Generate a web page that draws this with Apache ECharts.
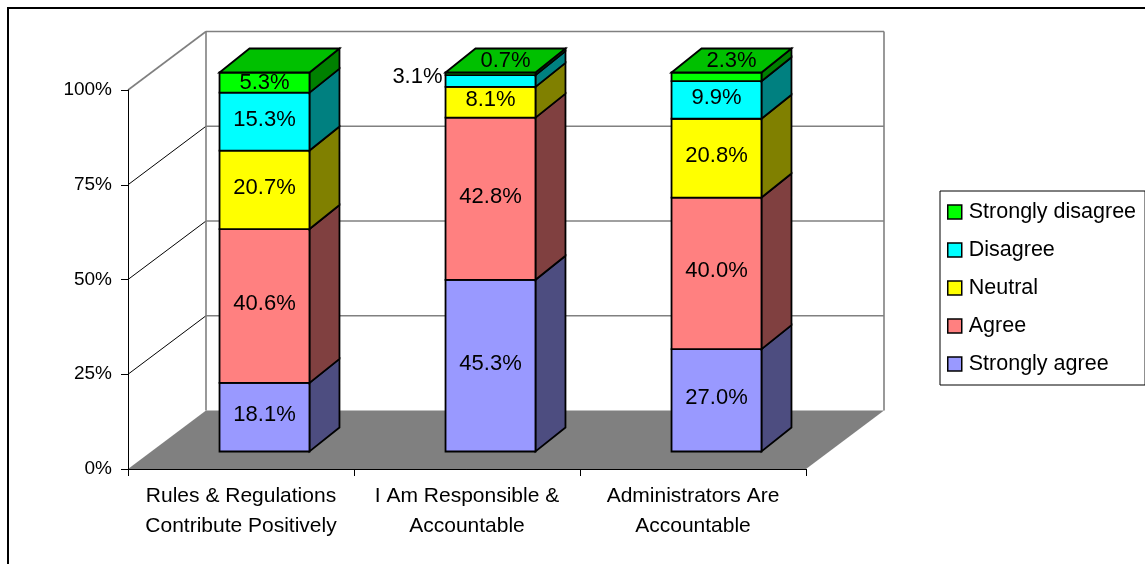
<!DOCTYPE html>
<html>
<head>
<meta charset="utf-8">
<title>Survey responses</title>
<script src="https://cdn.jsdelivr.net/npm/echarts@6/dist/echarts.min.js"></script>
<style>
  html, body { margin: 0; padding: 0; background: #fff; }
  #chart { width: 1145px; height: 564px; }
</style>
</head>
<body>
<div id="chart"></div>
<script>
// Statements on the category axis
const categories = [
  'Rules & Regulations\nContribute Positively',
  'I Am Responsible &\nAccountable',
  'Administrators Are\nAccountable'
];

// Share of responses (%) per statement, bottom to top of each stack
const stronglyAgree    = [18.1, 45.3, 27.0];
const agree            = [40.6, 42.8, 40.0];
const neutral          = [20.7, 8.1, 20.8];
const disagree         = [15.3, 3.1, 9.9];
const stronglyDisagree = [5.3, 0.7, 2.3];

const seriesNames = ['Strongly agree', 'Agree', 'Neutral', 'Disagree', 'Strongly disagree'];
const seriesValues = [stronglyAgree, agree, neutral, disagree, stronglyDisagree];

// Value axis ticks
const yTicks = [0, 25, 50, 75, 100];
const yTickLabels = ['0%', '25%', '50%', '75%', '100%'];

// Face colours: front, side (shaded), top
const faceColors = [
  { front: '#9999FF', side: '#4D4D80', top: '#7373BF' },
  { front: '#FF8080', side: '#804040', top: '#BF6060' },
  { front: '#FFFF00', side: '#808000', top: '#BFBF00' },
  { front: '#00FFFF', side: '#008080', top: '#00BFBF' },
  { front: '#00FF00', side: '#008000', top: '#00C000' }
];

const FONT = '"Liberation Sans", Arial, Helvetica, sans-serif';

// Pseudo-3D projection (pixels)
const WALL_DX = 78, WALL_DY = -58.5;     // full depth of the plot box
const FRONT_DX = 23.5, FRONT_DY = -17.5; // bar front face offset into the box
const BAR_DX = 30, BAR_DY = -24;         // bar depth
const BAR_RATIO = 0.398;                 // bar width relative to category band

function renderFrame(params, api) {
  const band = api.size([1, 0])[0];
  const left = api.coord([0, 0])[0] - band / 2;
  const right = api.coord([categories.length - 1, 0])[0] + band / 2;
  const y0 = api.coord([0, yTicks[0]])[1];
  const yTop = api.coord([0, yTicks[yTicks.length - 1]])[1];
  const children = [];
  // floor
  children.push({
    type: 'polygon',
    shape: { points: [[left, y0], [right, y0], [right + WALL_DX, y0 + WALL_DY], [left + WALL_DX, y0 + WALL_DY]] },
    style: { fill: '#808080', stroke: null }
  });
  // back wall gridlines and side wall diagonals
  yTicks.forEach(function (t, i) {
    const y = api.coord([0, t])[1];
    if (i > 0) {
      children.push({
        type: 'line',
        shape: { x1: left + WALL_DX, y1: y + WALL_DY, x2: right + WALL_DX, y2: y + WALL_DY },
        style: { stroke: '#808080', lineWidth: 1.6 }
      });
      const isTop = i === yTicks.length - 1;
      children.push({
        type: 'line',
        shape: { x1: left, y1: y, x2: left + WALL_DX, y2: y + WALL_DY },
        style: { stroke: isTop ? '#808080' : '#000', lineWidth: isTop ? 1.6 : 1 }
      });
    }
  });
  // back wall vertical edges
  [left + WALL_DX, right + WALL_DX].forEach(function (x) {
    children.push({
      type: 'line',
      shape: { x1: x, y1: y0 + WALL_DY, x2: x, y2: yTop + WALL_DY },
      style: { stroke: '#808080', lineWidth: 1.6 }
    });
  });
  return { type: 'group', children: children };
}

function makeSegmentRenderer(seriesIndex) {
  const colors = faceColors[seriesIndex];
  const isTopSeries = seriesIndex === seriesNames.length - 1;
  return function (params, api) {
    const cat = api.value(0);
    const lo = api.value(1);
    const hi = api.value(2);
    const val = api.value(3);
    const pLo = api.coord([cat, lo]);
    const pHi = api.coord([cat, hi]);
    const band = api.size([1, 0])[0];
    const w = band * BAR_RATIO;
    const xl = pLo[0] + FRONT_DX - w / 2;
    const xr = xl + w;
    const yb = pLo[1] + FRONT_DY;
    const yt = pHi[1] + FRONT_DY;
    const edge = { stroke: '#000', lineWidth: 1.8, lineJoin: 'miter' };
    const children = [
      {
        type: 'polygon',
        shape: { points: [[xr, yt], [xr + BAR_DX, yt + BAR_DY], [xr + BAR_DX, yb + BAR_DY], [xr, yb]] },
        style: Object.assign({ fill: colors.side }, edge)
      },
      {
        type: 'rect',
        shape: { x: xl, y: yt, width: w, height: yb - yt },
        style: Object.assign({ fill: colors.front }, edge)
      }
    ];
    if (isTopSeries) {
      children.push({
        type: 'polygon',
        shape: { points: [[xl, yt], [xl + BAR_DX, yt + BAR_DY], [xr + BAR_DX, yt + BAR_DY], [xr, yt]] },
        style: Object.assign({ fill: colors.top }, edge)
      });
    }
    // value label
    const text = val.toFixed(1) + '%';
    const h = yb - yt;
    let tx = (xl + xr) / 2, ty = (yt + yb) / 2 - (h < 25 ? 0 : 2), align = 'center';
    if (h < 15) {
      if (isTopSeries) {
        tx = (xl + xr) / 2 + BAR_DX / 2;
        ty = yt + BAR_DY / 2;
      } else {
        tx = xl - 3;
        ty = (yt + yb) / 2 - 4;
        align = 'right';
      }
    }
    children.push({
      type: 'text',
      style: {
        text: text, x: tx, y: ty, fill: '#000',
        font: '22px ' + FONT, align: align, verticalAlign: 'middle'
      },
      z2: 10
    });
    return { type: 'group', children: children };
  };
}

const barSeries = seriesNames.map(function (name, s) {
  const data = categories.map(function (_, i) {
    let start = 0;
    for (let k = 0; k < s; k++) start += seriesValues[k][i];
    const v = seriesValues[s][i];
    return [i, start, start + v, v];
  });
  return {
    name: name,
    type: 'custom',
    renderItem: makeSegmentRenderer(s),
    encode: { x: 0, y: [1, 2] },
    itemStyle: { color: faceColors[s].front },
    clip: false,
    z: 3,
    silent: true,
    data: data
  };
});

const chart = echarts.init(document.getElementById('chart'), null, { renderer: 'canvas' });

chart.setOption({
  animation: false,
  backgroundColor: '#fff',
  textStyle: { fontFamily: FONT },
  graphic: [{
    type: 'rect',
    shape: { x: 8, y: 8, width: 1200, height: 600 },
    style: { fill: null, stroke: '#000', lineWidth: 2 },
    z: 100
  }],
  grid: { left: 128, top: 90, width: 678, height: 379, containLabel: false },
  xAxis: {
    type: 'category',
    data: categories,
    boundaryGap: true,
    z: 5,
    axisLine: { lineStyle: { color: '#000', width: 1 } },
    axisTick: { show: true, length: 7, alignWithLabel: false, lineStyle: { color: '#000' } },
    axisLabel: { color: '#000', fontSize: 21, lineHeight: 30, margin: 12, fontFamily: FONT, interval: 0 },
    splitLine: { show: false }
  },
  yAxis: {
    type: 'value',
    min: 0, max: 100, interval: 25,
    z: 5,
    axisLine: { show: true, lineStyle: { color: '#000', width: 1 } },
    axisTick: { show: true, length: 7, lineStyle: { color: '#000' } },
    axisLabel: {
      color: '#000', fontSize: 19, margin: 16, fontFamily: FONT,
      formatter: function (v) { return yTickLabels[yTicks.indexOf(v)]; }
    },
    splitLine: { show: false }
  },
  legend: {
    orient: 'vertical',
    left: 940, top: 191,
    padding: [10, 9, 10, 7],
    itemWidth: 14, itemHeight: 14, itemGap: 16,
    icon: 'rect',
    selectedMode: false,
    borderColor: '#000', borderWidth: 1,
    itemStyle: { borderColor: '#000', borderWidth: 1.5 },
    textStyle: { color: '#000', fontSize: 21.5, lineHeight: 22, fontFamily: FONT, padding: [0, 0, 0, 2] },
    data: seriesNames.slice().reverse()
  },
  series: [{
    name: 'frame',
    type: 'custom',
    renderItem: renderFrame,
    encode: { x: 0, y: 1 },
    clip: false,
    silent: true,
    z: 1,
    data: [[0, 0]]
  }].concat(barSeries)
});
</script>
</body>
</html>
